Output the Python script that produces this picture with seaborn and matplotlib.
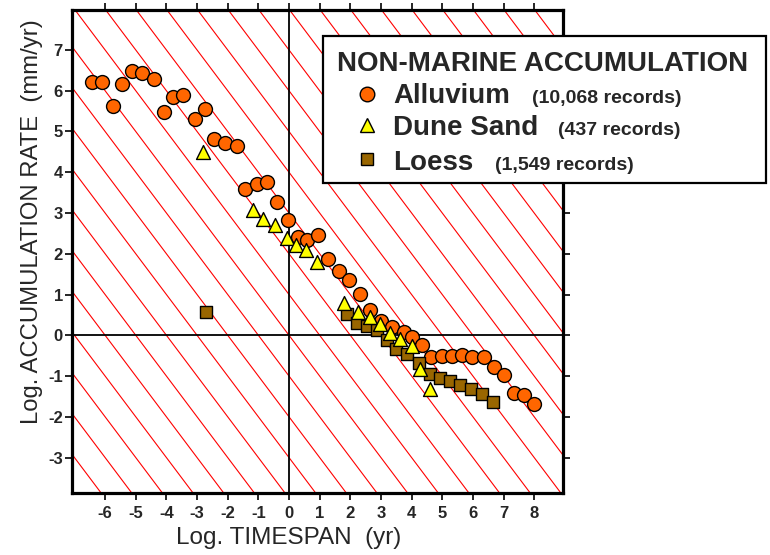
import matplotlib
matplotlib.use("Agg")
import matplotlib.pyplot as plt
from matplotlib.lines import Line2D
from matplotlib.patches import Rectangle
import pandas as pd
import seaborn as sns

# Log10 timespan (yr) vs log10 accumulation rate (mm/yr), binned means
alluvium_x = [-6.43, -6.09, -5.74, -5.44, -5.12, -4.78, -4.41, -4.08, -3.80, -3.45,
              -3.08, -2.74, -2.45, -2.09, -1.71, -1.43, -1.06, -0.71, -0.38, -0.02,
              0.30, 0.60, 0.94, 1.26, 1.63, 1.97, 2.32, 2.65, 3.01, 3.36,
              3.74, 4.01, 4.34, 4.64, 4.99, 5.32, 5.64, 5.97, 6.35, 6.68,
              7.00, 7.33, 7.68, 7.98]
alluvium_y = [6.22, 6.22, 5.63, 6.16, 6.49, 6.44, 6.29, 5.47, 5.85, 5.90,
              5.31, 5.56, 4.81, 4.71, 4.65, 3.59, 3.71, 3.77, 3.28, 2.84,
              2.40, 2.33, 2.45, 1.88, 1.58, 1.35, 1.01, 0.61, 0.34, 0.20,
              0.08, -0.04, -0.25, -0.53, -0.52, -0.51, -0.49, -0.53, -0.53, -0.78,
              -0.97, -1.42, -1.46, -1.68]

dune_x = [-2.82, -1.19, -0.84, -0.47, -0.08, 0.23, 0.56, 0.90, 1.80, 2.26,
          2.65, 2.97, 3.28, 3.63, 4.01, 4.26, 4.61]
dune_y = [4.50, 3.07, 2.85, 2.70, 2.38, 2.21, 2.09, 1.80, 0.79, 0.57,
          0.45, 0.27, 0.06, -0.08, -0.27, -0.84, -1.33]

loess_x = [-2.71, 1.89, 2.21, 2.54, 2.87, 3.19, 3.50, 3.85, 4.23, 4.61,
           4.93, 5.26, 5.59, 5.94, 6.30, 6.66]
loess_y = [0.58, 0.53, 0.30, 0.22, 0.12, -0.12, -0.33, -0.45, -0.68, -0.94,
           -1.06, -1.12, -1.21, -1.31, -1.45, -1.64]

x_ticks = list(range(-6, 9))
y_ticks = list(range(-3, 8))

legend_title = "NON-MARINE ACCUMULATION"
series_names = ["Alluvium", "Dune Sand", "Loess"]
record_counts = ["(10,068 records)", "(437 records)", "(1,549 records)"]

x_label = "Log. TIMESPAN  (yr)"
y_label = "Log. ACCUMULATION RATE  (mm/yr)"

colors = {"Alluvium": "#ff6600", "Dune Sand": "#ffff00", "Loess": "#996600"}
markers = {"Alluvium": "o", "Dune Sand": "^", "Loess": "s"}
sizes = {"Alluvium": 100, "Dune Sand": 100, "Loess": 78}
legend_ms = {"Alluvium": 10.5, "Dune Sand": 10, "Loess": 8.5}

sns.set_style("ticks")
plt.rcParams["font.family"] = ["Liberation Sans", "DejaVu Sans"]
plt.rcParams["axes.unicode_minus"] = False

fig = plt.figure(figsize=(7.7, 5.55), dpi=100)
W, H = 770.0, 555.0
ax = fig.add_axes([72 / W, 1 - 493 / H, (563 - 72) / W, (493 - 10) / H])
ax.set_xlim(-7.08, 8.94)
ax.set_ylim(-3.87, 7.98)

# lines of constant thickness: log rate + log timespan = k
for k in range(-12, 18):
    ax.axline((0, k), slope=-1, color="#ff0000", lw=0.8, zorder=1)
ax.axhline(0, color="black", lw=1.3, zorder=1.5)
ax.axvline(0, color="black", lw=1.3, zorder=1.5)

frames = {
    "Alluvium": pd.DataFrame({"x": alluvium_x, "y": alluvium_y}),
    "Loess": pd.DataFrame({"x": loess_x, "y": loess_y}),
    "Dune Sand": pd.DataFrame({"x": dune_x, "y": dune_y}),
}
for z, (name, df) in enumerate(frames.items()):
    sns.scatterplot(data=df, x="x", y="y", ax=ax, marker=markers[name],
                    s=sizes[name], color=colors[name], edgecolor="black",
                    linewidth=1.0, legend=False, zorder=3 + z)

ax.set_xticks(x_ticks)
ax.set_yticks(y_ticks)
ax.set_xticklabels([str(t) for t in x_ticks])
ax.set_yticklabels([str(t) for t in y_ticks])
ax.set_xlabel("")
ax.set_ylabel("")
for s in ax.spines.values():
    s.set_linewidth(2.3)
    s.set_color("black")
    s.set_zorder(10)
ax.tick_params(direction="out", length=5, width=1.2, color="black",
               top=True, right=True, labeltop=False, labelright=False,
               labelsize=12)
ax.tick_params(axis="x", pad=4)
ax.tick_params(axis="y", pad=1.5)
for lab in ax.get_xticklabels() + ax.get_yticklabels():
    lab.set_fontweight("bold")

fig.text(289 / W, 1 - 544 / H, x_label, ha="center", va="baseline",
         fontsize=17.5)
fig.text(32 / W, 1 - 222 / H, y_label, ha="center", va="center",
         rotation=90, fontsize=17.2)

# legend panel
box = Rectangle((323 / W, 1 - 183 / H), (766 - 323) / W, (183 - 36) / H,
                transform=fig.transFigure, facecolor="white",
                edgecolor="black", lw=1.6, zorder=20)
fig.add_artist(box)
fig.text(337 / W, 1 - 70.7 / H, legend_title, ha="left", va="baseline",
         fontsize=20, fontweight="bold", zorder=21)
rows = [(103.3, 532, 94), (135, 558, 125), (170, 495, 159.3)]
for name, count, (base, cx, my) in zip(series_names, record_counts, rows):
    fig.add_artist(Line2D([367 / W], [1 - my / H], transform=fig.transFigure,
                          marker=markers[name], markersize=legend_ms[name],
                          markerfacecolor=colors[name], markeredgecolor="black",
                          markeredgewidth=1.0, linestyle="none", zorder=21))
    fig.text(393 / W, 1 - base / H, name, ha="left", va="baseline",
             fontsize=20, fontweight="bold", zorder=21)
    fig.text(cx / W, 1 - base / H, count, ha="left", va="baseline",
             fontsize=14, fontweight="bold", zorder=21)

fig.savefig("out.png", dpi=100)
